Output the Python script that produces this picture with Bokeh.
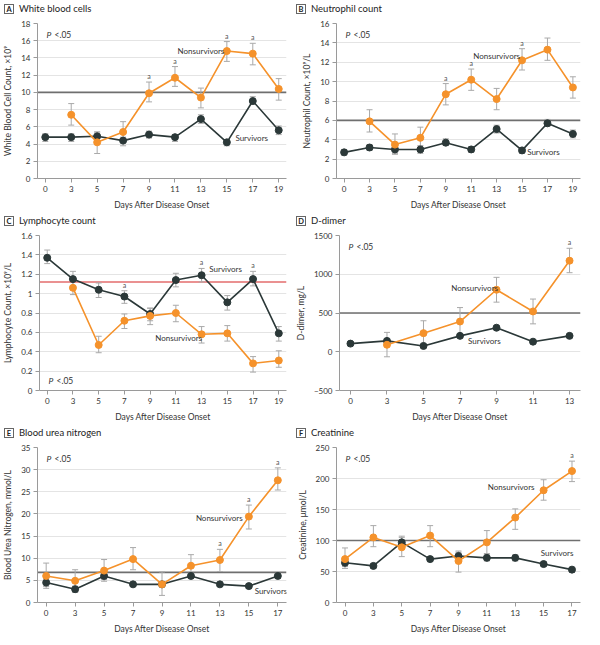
from bokeh.plotting import figure
from bokeh.models import ColumnDataSource, Whisker, TeeHead, Span, Label, FixedTicker, Div
from bokeh.layouts import row, column
from bokeh.embed import file_html
from bokeh.resources import INLINE
from bokeh.core.properties import value

FONT = "Lato"
ORANGE = "#F5922B"
DARK = "#2B3838"
ERR = "#A9A9A9"
REF_GRAY = "#6F6F6F"
REF_RED = "#E36C6C"
TXT = "#333333"

# ---------------- A: White blood cells ----------------
A_days = [0, 3, 5, 7, 9, 11, 13, 15, 17, 19]
A_surv = [4.8, 4.8, 4.9, 4.4, 5.1, 4.8, 6.9, 4.2, 9.0, 5.6]
A_surv_lo = [4.3, 4.3, 4.4, 3.8, 4.7, 4.3, 6.4, 3.8, 8.6, 5.1]
A_surv_hi = [5.2, 5.2, 5.4, 4.8, 5.5, 5.1, 7.4, 4.5, 9.5, 6.1]
A_nonsurv = [None, 7.4, 4.2, 5.4, 9.9, 11.7, 9.4, 14.8, 14.5, 10.4]
A_nonsurv_lo = [None, 6.2, 2.9, 4.3, 8.9, 10.7, 8.2, 13.6, 13.2, 9.1]
A_nonsurv_hi = [None, 8.7, 5.4, 6.6, 11.2, 13.0, 10.5, 15.9, 15.7, 11.6]
A_sig_days = [9, 11, 15, 17]
A_yticks = [0, 2, 4, 6, 8, 10, 12, 14, 16, 18]
A_ref = 10

# ---------------- B: Neutrophil count ----------------
B_days = [0, 3, 5, 7, 9, 11, 13, 15, 17, 19]
B_surv = [2.7, 3.2, 3.0, 3.0, 3.7, 3.0, 5.1, 2.9, 5.7, 4.6]
B_surv_lo = [2.4, 2.9, 2.6, 2.6, 3.4, 2.7, 4.7, 2.6, 5.4, 4.2]
B_surv_hi = [3.0, 3.5, 3.4, 3.4, 4.1, 3.3, 5.5, 3.2, 6.1, 5.0]
B_nonsurv = [None, 5.9, 3.5, 4.2, 8.7, 10.2, 8.2, 12.2, 13.3, 9.4]
B_nonsurv_lo = [None, 4.8, 2.5, 3.1, 7.6, 9.1, 7.1, 11.2, 12.2, 8.3]
B_nonsurv_hi = [None, 7.1, 4.6, 5.3, 9.8, 11.3, 9.3, 13.4, 14.5, 10.5]
B_sig_days = [9, 11, 15]
B_yticks = [0, 2, 4, 6, 8, 10, 12, 14, 16]
B_ref = 6

# ---------------- C: Lymphocyte count ----------------
C_days = [0, 3, 5, 7, 9, 11, 13, 15, 17, 19]
C_surv = [1.37, 1.15, 1.04, 0.97, 0.79, 1.14, 1.19, 0.91, 1.15, 0.59]
C_surv_lo = [1.31, 1.08, 0.96, 0.90, 0.72, 1.07, 1.12, 0.83, 1.08, 0.51]
C_surv_hi = [1.45, 1.23, 1.11, 1.03, 0.85, 1.21, 1.26, 0.98, 1.23, 0.66]
C_nonsurv = [None, 1.06, 0.47, 0.72, 0.77, 0.80, 0.58, 0.59, 0.28, 0.31]
C_nonsurv_lo = [None, 0.99, 0.39, 0.64, 0.68, 0.71, 0.49, 0.51, 0.19, 0.24]
C_nonsurv_hi = [None, 1.13, 0.56, 0.79, 0.85, 0.88, 0.66, 0.67, 0.35, 0.41]
C_sig_days = [7, 13, 17]
C_yticks = [0, 0.2, 0.4, 0.6, 0.8, 1.0, 1.2, 1.4, 1.6]
C_ref = 1.12

# ---------------- D: D-dimer ----------------
D_days = [0, 3, 5, 7, 9, 11, 13]
D_surv = [105, 140, 75, 205, 310, 130, 205]
D_surv_lo = [90, 110, 60, 185, 290, 115, 190]
D_surv_hi = [120, 170, 90, 225, 330, 145, 220]
D_nonsurv = [None, 90, 240, 390, 800, 520, 1175]
D_nonsurv_lo = [None, -65, 80, 210, 640, 360, 1020]
D_nonsurv_hi = [None, 250, 400, 570, 960, 680, 1335]
D_sig_days = [13]
D_yticks = [-500, 0, 500, 1000, 1500]
D_ref = 500

# ---------------- E: Blood urea nitrogen ----------------
E_days = [0, 3, 5, 7, 9, 11, 13, 15, 17]
E_surv = [4.5, 3.0, 6.0, 4.1, 4.1, 6.0, 4.1, 3.7, 6.0]
E_surv_lo = [3.6, 2.3, 5.2, 3.6, 3.5, 5.4, 3.6, 3.2, 5.4]
E_surv_hi = [5.3, 3.7, 6.8, 4.6, 4.7, 6.6, 4.6, 4.2, 6.6]
E_nonsurv = [6.0, 4.9, 7.2, 9.8, 4.1, 8.3, 9.6, 19.4, 27.6]
E_nonsurv_lo = [3.2, 2.4, 4.8, 7.4, 1.6, 5.8, 7.0, 16.6, 25.4]
E_nonsurv_hi = [8.9, 7.4, 9.7, 12.4, 6.9, 10.8, 12.0, 22.0, 30.4]
E_sig_days = [13, 15, 17]
E_yticks = [0, 5, 10, 15, 20, 25, 30, 35]
E_ref = 6.8

# ---------------- F: Creatinine ----------------
F_days = [0, 3, 5, 7, 9, 11, 13, 15, 17]
F_surv = [64, 59, 97, 70, 75, 72, 72, 62, 53]
F_surv_lo = [58, 55, 90, 66, 69, 67, 67, 58, 49]
F_surv_hi = [70, 63, 105, 74, 81, 77, 77, 66, 57]
F_nonsurv = [70, 105, 89, 108, 67, 97, 137, 181, 212]
F_nonsurv_lo = [55, 90, 74, 90, 49, 79, 118, 165, 195]
F_nonsurv_hi = [88, 124, 107, 124, 83, 116, 151, 198, 228]
F_sig_days = [17]
F_yticks = [0, 50, 100, 150, 200, 250]
F_ref = 100


def clean(idx, vals, lo, hi):
    keep = [i for i, v in enumerate(vals) if v is not None]
    return dict(x=[idx[i] for i in keep], y=[vals[i] for i in keep],
                lo=[lo[i] for i in keep], hi=[hi[i] for i in keep])


def header(letter, title):
    html = (
        '<div style="display:flex;align-items:center;height:16px;'
        'font-family:Lato,sans-serif;color:#222;">'
        '<span style="display:inline-block;width:10px;height:10px;line-height:10px;'
        'border:1px solid #666;text-align:center;font-size:7.5px;font-weight:bold;'
        'margin-left:4px;margin-right:5px;">' + letter + '</span>'
        '<span style="font-size:9.5px;">' + title + '</span></div>'
    )
    return Div(text=html, width=292, height=16, margin=0)


def panel(ylabel, days, surv, surv_lo, surv_hi, ns, ns_lo, ns_hi,
          sig_days, sig_group, ref, ref_color, yticks, ns_lab, s_lab, p_top,
          left_col):
    n = len(days)
    idx = list(range(n))
    x0, x1 = -0.3, n - 1 + 0.3
    y0, y1 = yticks[0], yticks[-1]
    p = figure(width=292, height=196, x_range=(x0, x1), y_range=(y0, y1),
               output_backend="svg", toolbar_location=None,
               min_border_top=7, min_border_bottom=4,
               min_border_left=36 if left_col else 44,
               min_border_right=6 if left_col else 4)
    p.outline_line_color = None
    p.background_fill_color = "white"
    p.xgrid.visible = False
    p.ygrid.grid_line_color = "#E4E4E4"
    p.ygrid.grid_line_width = 1

    for ax in (p.xaxis[0], p.yaxis[0]):
        ax.axis_line_color = "#9A9A9A"
        ax.major_tick_line_color = "#9A9A9A"
        ax.minor_tick_line_color = None
        ax.major_tick_in = 0
        ax.major_tick_out = 4
        ax.major_label_text_font = FONT
        ax.major_label_text_font_size = "8px"
        ax.major_label_text_color = TXT
        ax.axis_label_text_font = FONT
        ax.axis_label_text_font_size = "8.5px"
        ax.axis_label_text_font_style = "normal"
        ax.axis_label_text_color = TXT
        ax.major_label_standoff = 3
        ax.axis_label_standoff = 5

    p.xaxis.ticker = FixedTicker(ticks=idx)
    p.xaxis.major_label_overrides = {i: str(d) for i, d in zip(idx, days)}
    p.xaxis.axis_label = "Days After Disease Onset"
    p.yaxis.ticker = FixedTicker(ticks=yticks)
    p.yaxis.major_label_overrides = {0: "0"}
    p.yaxis.axis_label = ylabel

    p.add_layout(Span(location=ref, dimension="width", line_color=ref_color,
                      line_width=1.6, level="underlay"))

    s_data = clean(idx, surv, surv_lo, surv_hi)
    n_data = clean(idx, ns, ns_lo, ns_hi)
    for d in (s_data, n_data):
        src = ColumnDataSource(d)
        p.add_layout(Whisker(base="x", lower="lo", upper="hi", source=src,
                             line_color=ERR, line_width=1, level="underlay",
                             upper_head=TeeHead(size=6, line_color=ERR, line_width=1),
                             lower_head=TeeHead(size=6, line_color=ERR, line_width=1)))

    ssrc = ColumnDataSource(s_data)
    nsrc = ColumnDataSource(n_data)
    p.line("x", "y", source=ssrc, line_color=DARK, line_width=1.6)
    p.scatter("x", "y", source=ssrc, size=7, fill_color=DARK, line_color=DARK)
    p.line("x", "y", source=nsrc, line_color=ORANGE, line_width=1.6)
    p.scatter("x", "y", source=nsrc, size=7, fill_color=ORANGE, line_color=ORANGE)

    grp = n_data if sig_group == "ns" else s_data
    sx, sy = [], []
    for d in sig_days:
        i = days.index(d)
        j = grp["x"].index(i)
        sx.append(i)
        sy.append(grp["hi"][j])
    p.text(x=sx, y=sy, text=["a"] * len(sx), text_font=value(FONT),
           text_font_size=value("7px"), text_color="#555555",
           text_align="center", text_baseline="bottom", y_offset=-2)

    # series labels
    p.add_layout(Label(x=ns_lab[0], y=ns_lab[1], text="Nonsurvivors",
                       text_font=FONT, text_font_size="8px", text_color=TXT,
                       text_align="left", text_baseline="middle"))
    p.add_layout(Label(x=s_lab[0], y=s_lab[1], text="Survivors",
                       text_font=FONT, text_font_size="8px", text_color=TXT,
                       text_align="left", text_baseline="middle"))

    # P <.05
    py = y1 if p_top else y0
    poff = -11 if p_top else 10
    p.add_layout(Label(x=x0, y=py, x_offset=9, y_offset=poff, text="P",
                       text_font=FONT, text_font_size="8.5px", text_font_style="italic",
                       text_color=TXT, text_baseline="middle"))
    p.add_layout(Label(x=x0, y=py, x_offset=17, y_offset=poff, text="<.05",
                       text_font=FONT, text_font_size="8.5px",
                       text_color=TXT, text_baseline="middle"))
    return p


pA = panel("White Blood Cell Count, ×10⁹",
           A_days, A_surv, A_surv_lo, A_surv_hi, A_nonsurv, A_nonsurv_lo, A_nonsurv_hi,
           A_sig_days, "ns", A_ref, REF_GRAY, A_yticks, (5.1, 14.8), (7.33, 4.7), True, True)
pB = panel("Neutrophil Count, ×10⁹/L",
           B_days, B_surv, B_surv_lo, B_surv_hi, B_nonsurv, B_nonsurv_lo, B_nonsurv_hi,
           B_sig_days, "ns", B_ref, REF_GRAY, B_yticks, (5.08, 12.6), (7.2, 2.7), True, False)
pC = panel("Lymphocyte Count, ×10⁹/L",
           C_days, C_surv, C_surv_lo, C_surv_hi, C_nonsurv, C_nonsurv_lo, C_nonsurv_hi,
           C_sig_days, "s", C_ref, REF_RED, C_yticks, (4.2, 0.54), (6.3, 1.25), False, True)
pD = panel("D-dimer, mg/L",
           D_days, D_surv, D_surv_lo, D_surv_hi, D_nonsurv, D_nonsurv_lo, D_nonsurv_hi,
           D_sig_days, "ns", D_ref, REF_GRAY, D_yticks, (2.76, 829), (3.22, 145), True, False)
pE = panel("Blood Urea Nitrogen, mmol/L",
           E_days, E_surv, E_surv_lo, E_surv_hi, E_nonsurv, E_nonsurv_lo, E_nonsurv_hi,
           E_sig_days, "ns", E_ref, REF_GRAY, E_yticks, (5.17, 19.1), (7.2, 2.7), True, True)
pF = panel("Creatinine, μmol/L",
           F_days, F_surv, F_surv_lo, F_surv_hi, F_nonsurv, F_nonsurv_lo, F_nonsurv_hi,
           F_sig_days, "ns", F_ref, REF_GRAY, F_yticks, (5.03, 186), (6.9, 80), True, False)

layout = column(
    row(header("A", "White blood cells"), header("B", "Neutrophil count")),
    row(pA, pB),
    row(header("C", "Lymphocyte count"), header("D", "D-dimer")),
    row(pC, pD),
    row(header("E", "Blood urea nitrogen"), header("F", "Creatinine")),
    row(pE, pF),
)
open("out.html", "w").write(file_html(layout, INLINE))
